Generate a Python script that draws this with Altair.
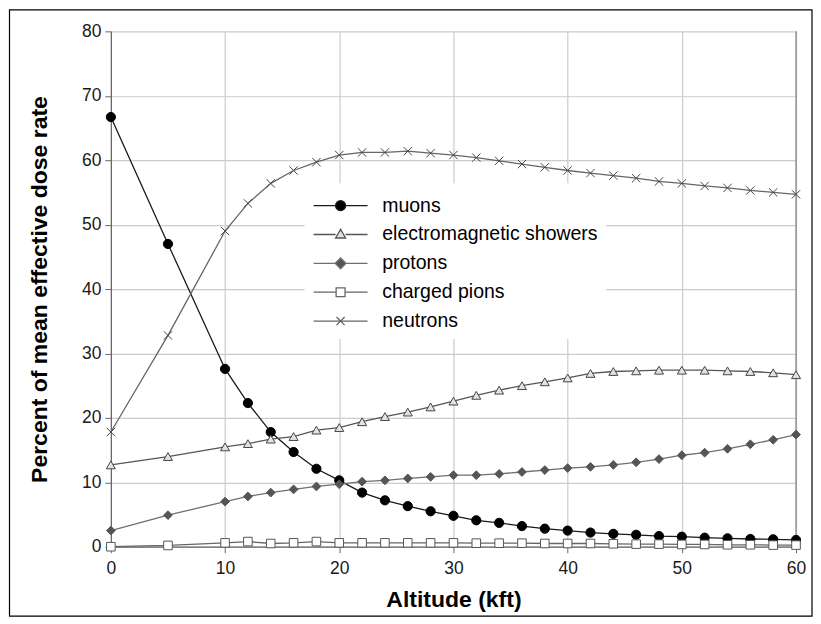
import altair as alt
import pandas as pd

ALTITUDE = [0, 5, 10, 12, 14, 16, 18, 20, 22, 24, 26, 28, 30, 32, 34, 36, 38, 40,
            42, 44, 46, 48, 50, 52, 54, 56, 58, 60]

MUONS = [66.7, 47.0, 27.6, 22.3, 17.8, 14.7, 12.1, 10.3, 8.4, 7.2, 6.3, 5.5, 4.8,
         4.1, 3.7, 3.2, 2.8, 2.5, 2.2, 2.0, 1.85, 1.65, 1.55, 1.4, 1.3, 1.2, 1.15, 1.05]
EM_SHOWERS = [12.7, 14.0, 15.5, 16.0, 16.7, 17.1, 18.1, 18.5, 19.4, 20.2, 20.9, 21.7,
              22.6, 23.5, 24.3, 25.0, 25.6, 26.2, 26.9, 27.2, 27.3, 27.4, 27.4, 27.4,
              27.3, 27.2, 27.0, 26.7]
PROTONS = [2.5, 4.9, 7.0, 7.8, 8.4, 8.9, 9.35, 9.7, 10.1, 10.3, 10.6, 10.85, 11.1,
           11.1, 11.3, 11.6, 11.9, 12.2, 12.4, 12.7, 13.1, 13.6, 14.2, 14.6, 15.2,
           15.9, 16.6, 17.4]
PIONS = [0.0, 0.2, 0.6, 0.8, 0.5, 0.6, 0.8, 0.6, 0.6, 0.6, 0.6, 0.6, 0.6, 0.55,
         0.55, 0.55, 0.5, 0.5, 0.5, 0.45, 0.4, 0.4, 0.35, 0.35, 0.3, 0.3, 0.25, 0.25]
NEUTRONS = [17.8, 32.8, 49.0, 53.3, 56.4, 58.4, 59.7, 60.8, 61.2, 61.2, 61.4, 61.1,
            60.8, 60.4, 59.9, 59.4, 58.9, 58.4, 58.0, 57.6, 57.2, 56.7, 56.4, 56.0,
            55.7, 55.3, 55.0, 54.7]

SERIES = ["muons", "electromagnetic showers", "protons", "charged pions", "neutrons"]
VALUES = [MUONS, EM_SHOWERS, PROTONS, PIONS, NEUTRONS]

X_TICKS = [0, 10, 20, 30, 40, 50, 60]
Y_TICKS = [0, 10, 20, 30, 40, 50, 60, 70, 80]

LINE_COLORS = ["#1a1a1a", "#555555", "#707070", "#666666", "#666666"]
MARK_FILLS = ["#000000", "#e2e2e2", "#555555", "#ffffff", "#444444"]
MARK_STROKES = ["#000000", "#444444", "#555555", "#555555", "#444444"]
MARK_SHAPES = ["circle", "triangle-up", "diamond", "square",
               "M-1,-1L1,1M-1,1L1,-1"]

# legend symbols: line with the marker in its middle (unit box, drawn to the right)
LEGEND_SHAPES = [
    "M-1,0H0.63M1.37,0H3M1.37,0A0.37,0.37 0 1,1 0.63,0A0.37,0.37 0 1,1 1.37,0Z",
    "M-1,0H0.63M1.37,0H3M1,-0.38L1.37,0.26L0.63,0.26Z",
    "M-1,0H0.6M1.4,0H3M1,-0.4L1.4,0L1,0.4L0.6,0Z",
    "M-1,0H0.67M1.33,0H3M0.67,-0.33H1.33V0.33H0.67Z",
    "M-1,0H3M0.7,-0.3L1.3,0.3M0.7,0.3L1.3,-0.3",
]

FONT = "Liberation Sans"

rows = []
for name, vals in zip(SERIES, VALUES):
    for i, (a, v) in enumerate(zip(ALTITUDE, vals)):
        rows.append({"series": name, "altitude": a, "value": v, "idx": i})
df = pd.DataFrame(rows)

x_enc = alt.X("altitude:Q", scale=alt.Scale(domain=[0, 60], nice=False),
              axis=alt.Axis(values=X_TICKS, title="Altitude (kft)"))
y_enc = alt.Y("value:Q", scale=alt.Scale(domain=[0, 80], nice=False),
              axis=alt.Axis(values=Y_TICKS, title="Percent of mean effective dose rate"))

base = alt.Chart(df)

lines = base.mark_line(strokeWidth=1.3).encode(
    x=x_enc, y=y_enc,
    color=alt.Color("series:N", scale=alt.Scale(domain=SERIES, range=LINE_COLORS), legend=None),
    order="idx:Q",
)

points = base.mark_point(filled=True, strokeWidth=1, opacity=1).encode(
    x="altitude:Q", y="value:Q",
    shape=alt.Shape("series:N", scale=alt.Scale(domain=SERIES, range=MARK_SHAPES), legend=None),
    fill=alt.Fill("series:N", scale=alt.Scale(domain=SERIES, range=MARK_FILLS), legend=None),
    stroke=alt.Stroke("series:N", scale=alt.Scale(domain=SERIES, range=MARK_STROKES), legend=None),
    size=alt.Size("series:N", scale=alt.Scale(domain=SERIES, range=[85, 70, 90, 60, 50]), legend=None),
)

# trailing no-break spaces widen the white legend box like the original's
PAD = "\u00a0" * 10
legend_props = dict(
    title=None, orient="none", legendX=194, legendY=152, padding=8,
    fillColor="white", symbolSize=729, symbolStrokeWidth=1.3,
    labelFont=FONT, labelFontSize=19.5, labelColor="#000000", labelOffset=40.7,
    labelLimit=400, rowPadding=4.9, labelExpr="datum.label + '" + PAD + "'",
)

legend_layer = base.mark_point(filled=True, strokeWidth=1.3, opacity=1).encode(
    x="altitude:Q", y="value:Q",
    shape=alt.Shape("series:N", scale=alt.Scale(domain=SERIES, range=LEGEND_SHAPES),
                    legend=alt.Legend(**legend_props)),
    fill=alt.Fill("series:N", scale=alt.Scale(domain=SERIES, range=MARK_FILLS),
                  legend=alt.Legend(**legend_props)),
    stroke=alt.Stroke("series:N", scale=alt.Scale(domain=SERIES, range=LINE_COLORS),
                      legend=alt.Legend(**legend_props)),
).transform_filter("false")

one = alt.Chart(pd.DataFrame({"r": [0]}))

right_edge = one.mark_rule(color="#808080", strokeWidth=1.2).encode(x=alt.datum(60))

frame = one.mark_rect(fillOpacity=0, stroke="#000000", strokeWidth=1.2).encode(
    x=alt.value(-101.5), x2=alt.value(702), y=alt.value(-21.5), y2=alt.value(585.5)
)

chart = alt.layer(right_edge, lines, points, legend_layer, frame).resolve_scale(
    shape="independent", fill="independent", stroke="independent",
    color="independent", size="independent",
).properties(
    width=686, height=516, padding=0,
).configure_view(
    stroke=None
).configure_axis(
    grid=True, gridColor="#cccccc", gridWidth=1.2, labelFlush=False,
    domainColor="#666666", domainWidth=1.2, tickColor="#666666", tickSize=6,
    labelFont=FONT, labelFontSize=17.5, labelColor="#1a1a1a",
    titleFont=FONT, titleFontSize=23, titleFontWeight="bold", titleColor="#000000",
).configure_axisX(
    labelPadding=7, titlePadding=11,
).configure_axisY(
    labelPadding=4, titlePadding=30,
)

chart.save("out.html", embed_options={"renderer": "svg", "actions": False})
